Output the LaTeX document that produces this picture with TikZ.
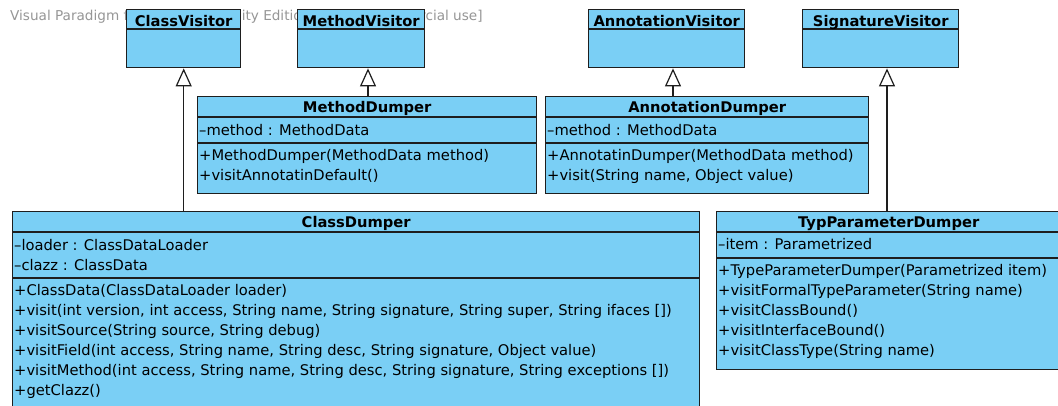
\documentclass[tikz,border=0pt]{standalone}
\usepackage{fontspec}
\setmainfont{DejaVu Sans}
\usetikzlibrary{arrows.meta}
\definecolor{clsfill}{RGB}{122,207,245}
\definecolor{clsline}{RGB}{30,30,30}
\definecolor{wmgray}{RGB}{150,150,150}
\tikzset{
 cls/.style={draw=clsline, fill=clsfill, line width=1.4pt, inner sep=0pt, anchor=north west},
 ttl/.style={font=\fontsize{14.7}{18}\selectfont\bfseries, anchor=base, inner sep=0pt},
 mem/.style={font=\fontsize{14.7}{18}\selectfont, anchor=base west, inner sep=0pt},
 sep/.style={draw=clsline, line width=1.2pt},
 inh/.style={draw=clsline, line width=1.5pt, -{Triangle[open, length=18pt, width=16pt, line width=1.2pt]}},
 wm/.style={font=\fontsize{13.6}{16}\selectfont, text=wmgray, anchor=base west, inner sep=0pt}
}
\begin{document}
\begin{tikzpicture}[x=1pt,y=-1pt]
\useasboundingbox (0,0) rectangle (1058,405);
\clip (0,0) rectangle (1058,405);
\fill[white] (0,0) rectangle (1058,405);
\node[wm] (wmark) at (10,20) {Visual Paradigm for UML Community Edition [not for commercial use]};

% top visitors
\node[cls, minimum width=114pt, minimum height=58pt] (cv) at (126,9) {};
\draw[sep] (cv.west |- 0,29) -- (cv.east |- 0,29);
\node[ttl] (cvt) at (cv.north |- 0,26) {ClassVisitor};

\node[cls, minimum width=127pt, minimum height=58pt] (mv) at (297,9) {};
\draw[sep] (mv.west |- 0,29) -- (mv.east |- 0,29);
\node[ttl] (mvt) at (mv.north |- 0,26) {MethodVisitor};

\node[cls, minimum width=156pt, minimum height=58pt] (av) at (588,9) {};
\draw[sep] (av.west |- 0,29) -- (av.east |- 0,29);
\node[ttl] (avt) at (av.north |- 0,26) {AnnotationVisitor};

\node[cls, minimum width=156pt, minimum height=58pt] (sv) at (802,9) {};
\draw[sep] (sv.west |- 0,29) -- (sv.east |- 0,29);
\node[ttl] (svt) at (sv.north |- 0,26) {SignatureVisitor};

% MethodDumper
\node[cls, minimum width=339pt, minimum height=97pt] (md) at (197,96) {};
\draw[sep] (md.west |- 0,117) -- (md.east |- 0,117);
\draw[sep] (md.west |- 0,143) -- (md.east |- 0,143);
\node[ttl] (mdt) at (md.north |- 0,112) {MethodDumper};
\node[mem] (md1) at (199,135) {–method : MethodData};
\node[mem] (md2) at (199,160) {+MethodDumper(MethodData method)};
\node[mem] (md3) at (199,180) {+visitAnnotatinDefault()};

% AnnotationDumper
\node[cls, minimum width=323pt, minimum height=97pt] (ad) at (545,96) {};
\draw[sep] (ad.west |- 0,117) -- (ad.east |- 0,117);
\draw[sep] (ad.west |- 0,143) -- (ad.east |- 0,143);
\node[ttl] (adt) at (ad.north |- 0,112) {AnnotationDumper};
\node[mem] (ad1) at (547,135) {–method : MethodData};
\node[mem] (ad2) at (547,160) {+AnnotatinDumper(MethodData method)};
\node[mem] (ad3) at (547,180) {+visit(String name, Object value)};

% ClassDumper
\node[cls, minimum width=687pt, minimum height=220pt] (cd) at (12,211) {};
\draw[sep] (cd.west |- 0,232) -- (cd.east |- 0,232);
\draw[sep] (cd.west |- 0,278) -- (cd.east |- 0,278);
\node[ttl] (cdt) at (cd.north |- 0,227) {ClassDumper};
\node[mem] (cd1) at (14,250) {–loader : ClassDataLoader};
\node[mem] (cd2) at (14,270) {–clazz : ClassData};
\node[mem] (cd3) at (14,295) {+ClassData(ClassDataLoader loader)};
\node[mem] (cd4) at (14,315) {+visit(int version, int access, String name, String signature, String super, String ifaces [])};
\node[mem] (cd5) at (14,335) {+visitSource(String source, String debug)};
\node[mem] (cd6) at (14,355) {+visitField(int access, String name, String desc, String signature, Object value)};
\node[mem] (cd7) at (14,375) {+visitMethod(int access, String name, String desc, String signature, String exceptions [])};
\node[mem] (cd8) at (14,395) {+getClazz()};

% TypParameterDumper
\node[cls, minimum width=344pt, minimum height=158pt] (tp) at (716,211) {};
\draw[sep] (tp.west |- 0,232) -- (tp.east |- 0,232);
\draw[sep] (tp.west |- 0,258) -- (tp.east |- 0,258);
\node[ttl] (tpt) at (tp.north |- 0,227) {TypParameterDumper};
\node[mem] (tp1) at (718,249) {–item : Parametrized};
\node[mem] (tp2) at (718,275) {+TypeParameterDumper(Parametrized item)};
\node[mem] (tp3) at (718,295) {+visitFormalTypeParameter(String name)};
\node[mem] (tp4) at (718,315) {+visitClassBound()};
\node[mem] (tp5) at (718,335) {+visitInterfaceBound()};
\node[mem] (tp6) at (718,355) {+visitClassType(String name)};

% generalizations
\draw[inh] (cd.north -| cv.south) -- (cv.south);
\draw[inh] (md.north -| 368,0) -- (mv.south -| 368,0);
\draw[inh] (ad.north -| 673,0) -- (av.south -| 673,0);
\draw[inh] (tp.north -| 887,0) -- (sv.south -| 887,0);
\end{tikzpicture}
\end{document}
